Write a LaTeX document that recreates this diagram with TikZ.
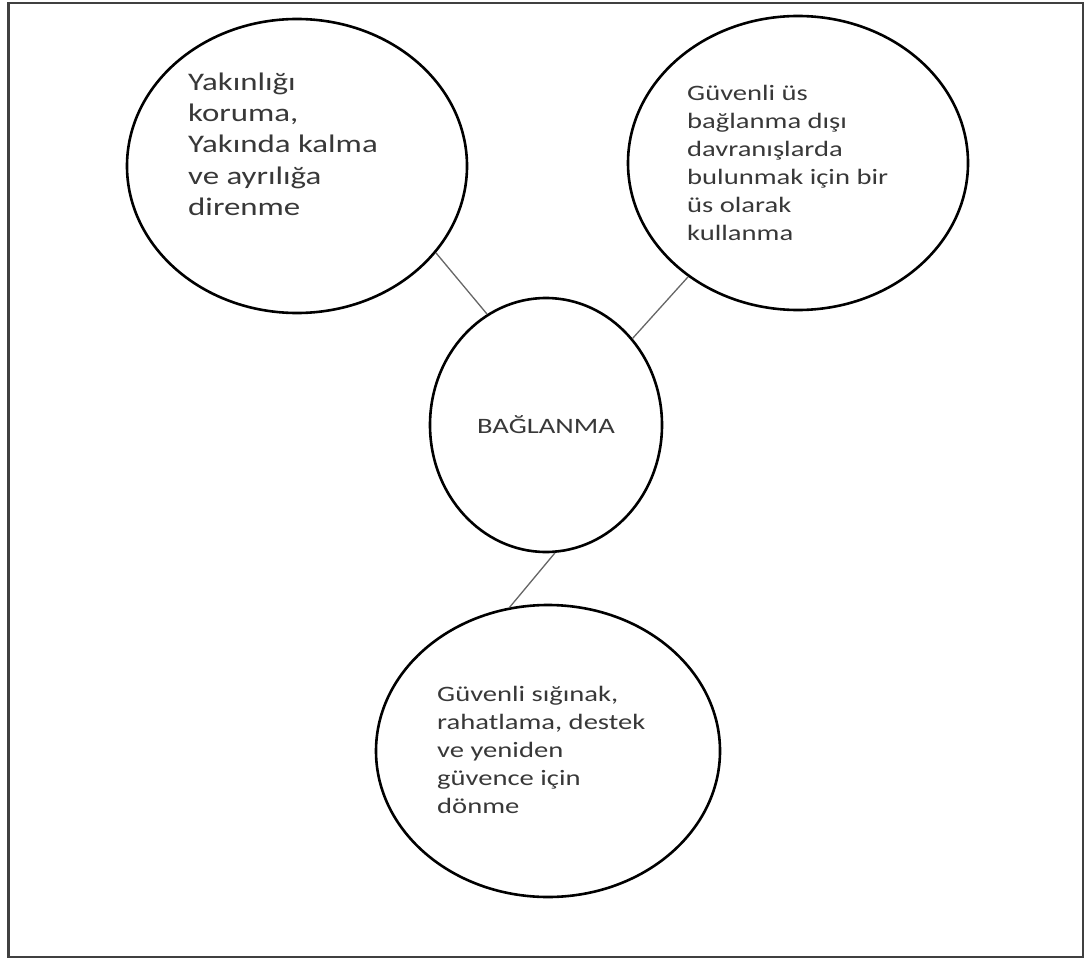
\documentclass[tikz,border=0pt]{standalone}
\usepackage{fontspec}
\setmainfont{Carlito}[FakeStretch=1.3]
\usetikzlibrary{shapes.geometric}

\begin{document}
\begin{tikzpicture}[x=1pt, y=-1pt]

\tikzstyle{halka}=[ellipse, draw=black, line width=2.6pt, inner sep=0pt]
\tikzstyle{yazi}=[anchor=north west, align=left, inner sep=0pt, text=black!78, font=\fontsize{22}{28}\selectfont]
\tikzstyle{cizgi}=[draw=black!60, line width=1.3pt]

\useasboundingbox (0,0) rectangle (1086,960);
\draw[black!75, line width=2.4pt] (8.5,3) rectangle (1083,957);

\node[halka, minimum width=232pt, minimum height=254pt, text=black!78, font=\fontsize{22}{28}\selectfont] (bag) at (546,425) {BAĞLANMA};

\node[halka, minimum width=340pt, minimum height=294pt] (yakin) at (297,166) {};
\node[yazi, font=\fontsize{25.3}{31.25}\selectfont] (yakintekst) at (188,72.5) {Yakınlığı\\koruma,\\Yakında kalma\\ve ayrılığa\\direnme};

\node[halka, minimum width=340pt, minimum height=294pt] (us) at (798,163) {};
\node[yazi] (ustekst) at (687,85) {Güvenli üs\\bağlanma dışı\\davranışlarda\\bulunmak için bir\\üs olarak\\kullanma};

\node[halka, minimum width=344pt, minimum height=292pt] (siginak) at (548,751) {};
\node[yazi] (siginaktekst) at (437,686.5) {Güvenli sığınak,\\rahatlama, destek\\ve yeniden\\güvence için\\dönme};

%\draw (bag) -- (yakin);
\draw[cizgi] (yakin.-32) -- (bag.118);
\draw[cizgi] (us.226) -- (bag.45);
\draw[cizgi] (bag.-86) -- (siginak.105);

\end{tikzpicture}
\end{document}
